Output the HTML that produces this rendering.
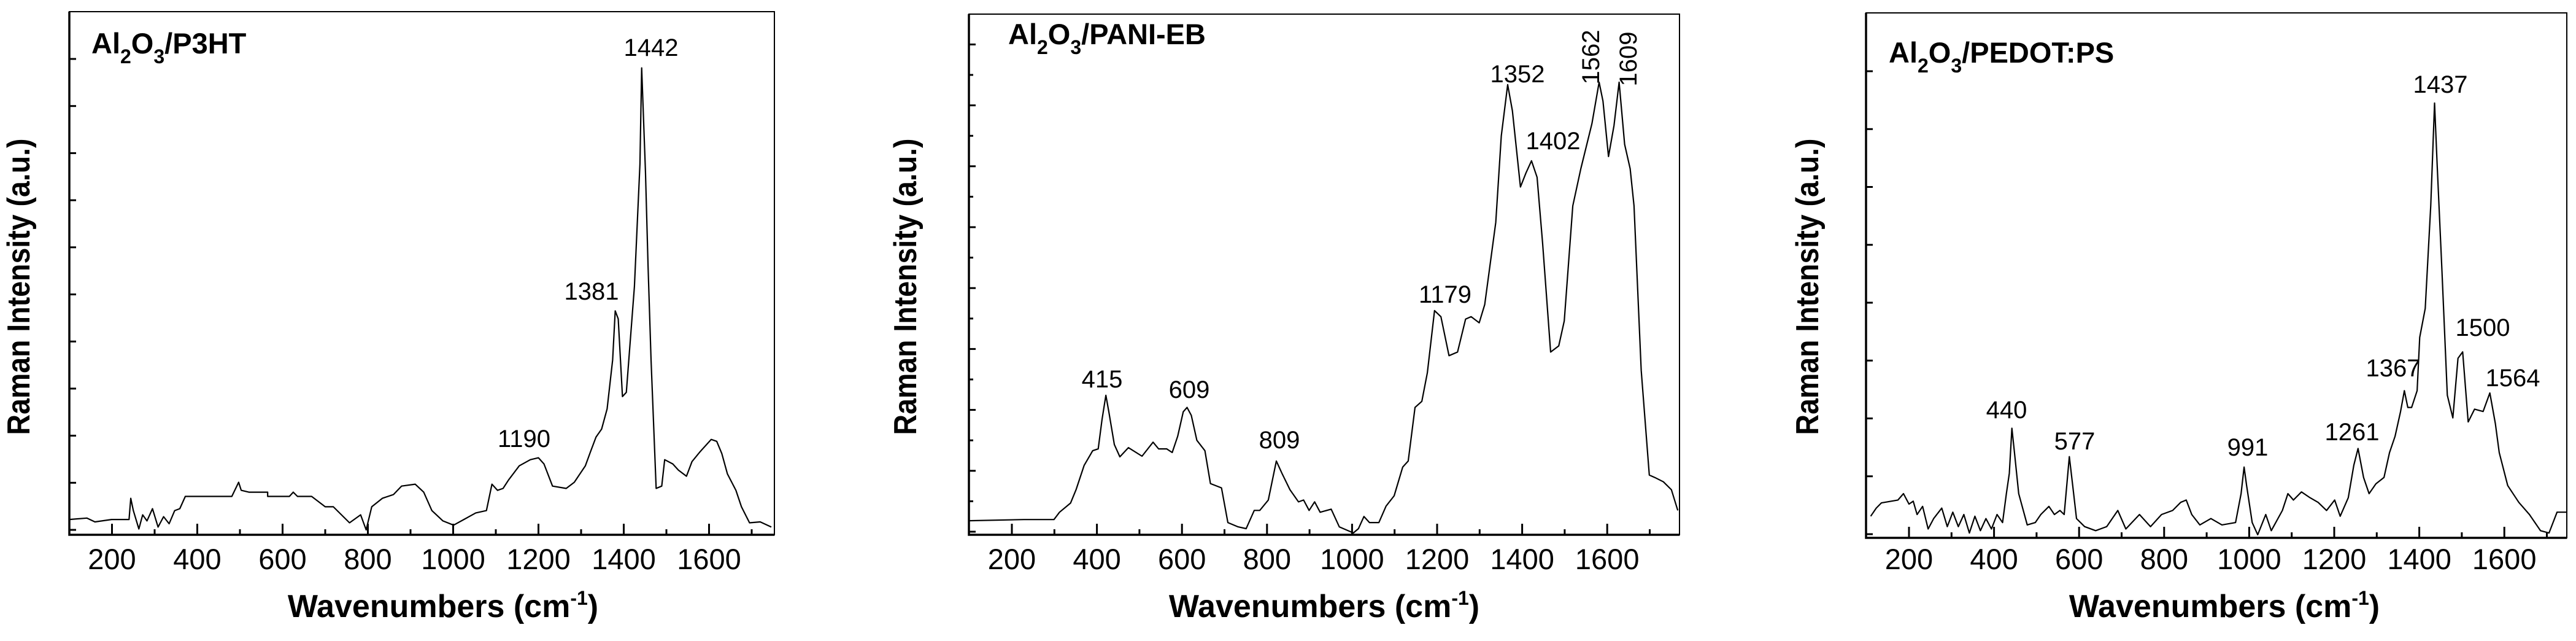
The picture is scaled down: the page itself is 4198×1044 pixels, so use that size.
<!DOCTYPE html>
<html><head><meta charset="utf-8"><style>
html,body{margin:0;padding:0;background:#fff;}
svg{display:block;}
text{font-family:"Liberation Sans",Arial,sans-serif;fill:#000;}
</style></head><body>
<svg id="fig" width="4198" height="1044" viewBox="0 0 4198 1044" xmlns="http://www.w3.org/2000/svg"></svg>
<script>
// Panel 1: Al2O3/P3HT
const p1Wn = [100,141,160,199,240,244,250,263,272,282,295,308,321,334,347,359,372,398,481,497,503,521,565,565,616,625,635,668,700,719,757,783,796,809,834,860,879,911,931,950,976,1001,1027,1053,1078,1091,1104,1117,1130,1155,1181,1200,1213,1233,1265,1284,1310,1322,1335,1348,1361,1374,1380,1387,1397,1406,1425,1438,1442,1451,1457,1464,1476,1489,1496,1515,1528,1547,1560,1579,1605,1618,1630,1643,1663,1676,1695,1720,1746];
const p1Val = [0.22,0.25,0.17,0.22,0.22,0.67,0.41,0.02,0.32,0.19,0.45,0.06,0.28,0.13,0.41,0.45,0.71,0.71,0.71,1.01,0.84,0.80,0.80,0.71,0.71,0.80,0.71,0.71,0.49,0.49,0.15,0.32,0,0.49,0.67,0.75,0.93,0.97,0.80,0.41,0.19,0.10,0.23,0.36,0.41,0.97,0.84,0.88,1.06,1.36,1.49,1.53,1.40,0.93,0.88,1.01,1.36,1.66,1.97,2.14,2.57,3.61,4.65,4.48,2.83,2.92,5.17,7.77,9.81,7.60,5.61,3.61,0.88,0.93,1.49,1.40,1.27,1.14,1.45,1.66,1.92,1.88,1.62,1.19,0.84,0.49,0.15,0.17,0.06];
const p1Peaks = ["1442","1381","1190"];
// Panel 2: Al2O3/PANI-EB
const p2Wn = [99,228,299,312,338,351,370,390,403,412,421,428,441,454,474,506,532,545,564,577,590,603,612,622,635,654,667,693,708,732,751,770,783,803,822,835,854,874,886,899,912,925,951,970,1003,1015,1028,1041,1063,1080,1099,1119,1132,1148,1164,1177,1194,1209,1228,1248,1267,1280,1299,1312,1338,1351,1366,1377,1396,1409,1422,1435,1448,1467,1486,1499,1519,1538,1564,1581,1590,1603,1616,1628,1641,1654,1663,1680,1699,1712,1732,1751,1766];
const p2Val = [0.18,0.20,0.20,0.32,0.47,0.69,1.09,1.33,1.36,1.84,2.24,1.97,1.43,1.23,1.38,1.24,1.47,1.36,1.36,1.30,1.57,1.97,2.04,1.91,1.50,1.33,0.79,0.72,0.15,0.08,0.05,0.35,0.35,0.52,1.16,0.96,0.69,0.49,0.52,0.35,0.49,0.32,0.37,0.08,-0.02,0.05,0.25,0.15,0.15,0.42,0.59,1.06,1.16,2.04,2.14,2.61,3.63,3.53,2.89,2.95,3.49,3.53,3.43,3.73,5.08,6.50,7.34,6.91,5.66,5.89,6.09,5.82,4.74,2.95,3.05,3.46,5.35,5.96,6.70,7.38,7.07,6.16,6.67,7.38,6.36,5.96,5.35,2.65,0.93,0.89,0.82,0.69,0.35];
const p2Peaks = ["415","609","809","1179","1352","1402","1562","1609"];
// Panel 3: Al2O3/PEDOT:PS
const p3Wn = [110,123,135,174,187,200,210,219,232,245,258,277,290,303,316,329,342,355,368,381,394,407,420,429,436,442,448,458,478,497,510,529,542,555,565,577,585,594,613,639,665,691,710,742,768,794,820,839,852,865,884,910,936,968,981,988,994,1007,1020,1039,1052,1078,1091,1104,1123,1143,1162,1182,1201,1214,1233,1246,1256,1269,1282,1298,1317,1330,1343,1356,1365,1373,1382,1395,1401,1414,1427,1436,1442,1453,1466,1479,1491,1502,1515,1530,1550,1566,1579,1588,1608,1634,1659,1685,1705,1724,1747];
const p3Val = [0.31,0.45,0.54,0.59,0.70,0.52,0.57,0.34,0.48,0.09,0.27,0.45,0.13,0.38,0.13,0.34,0.02,0.31,0.06,0.27,0.09,0.34,0.20,0.70,1.05,1.83,1.41,0.70,0.16,0.20,0.34,0.48,0.34,0.41,0.34,1.34,0.84,0.27,0.13,0.06,0.13,0.41,0.09,0.34,0.13,0.34,0.41,0.55,0.59,0.34,0.16,0.27,0.16,0.20,0.70,1.16,0.84,0.20,-0.01,0.34,0.06,0.41,0.70,0.59,0.73,0.63,0.55,0.41,0.59,0.31,0.63,1.19,1.48,0.98,0.70,0.87,0.98,1.41,1.69,2.12,2.48,2.19,2.19,2.48,3.40,3.90,5.68,7.45,6.39,4.61,2.40,2.01,3.04,3.15,1.94,2.16,2.12,2.44,1.91,1.41,0.84,0.55,0.34,0.06,0.02,0.38,0.38];
const p3Peaks = ["440","577","991","1261","1367","1437","1500","1564"];
const xTicks = [200,400,600,800,1000,1200,1400,1600];

const NS = "http://www.w3.org/2000/svg";
const svg = document.getElementById('fig');
function mk(tag, attrs, parent){
  const e = document.createElementNS(NS, tag);
  for (const k in attrs) e.setAttribute(k, attrs[k]);
  (parent||svg).appendChild(e);
  return e;
}
function panel(cfg){
  const g = mk('g', {});
  
  
  const X = w => cfg.x0 + (w - cfg.w0) * cfg.sx;
  const Y = v => cfg.y0 - v * cfg.dy;
  const fr = mk('rect', {x:cfg.L, y:cfg.T, width:cfg.R-cfg.L, height:cfg.B-cfg.T, fill:'none', stroke:'#000', 'stroke-width':2}, g);
  
  
  const ax = mk('path', {d:`M${cfg.L} ${cfg.T} V${cfg.B} H${cfg.R}`, fill:'none', stroke:'#000', 'stroke-width':3.5}, g);
  
  
  for (let w = 200; w <= 1700; w += 100) {
    const major = w % 200 === 0;
    const t = mk('line', {x1:X(w), x2:X(w), y1:cfg.B, y2:cfg.B-(major?18:9), stroke:'#000', 'stroke-width':3}, g);
    
    
  }
  for (const w of xTicks) {
    const t = mk('text', {x:X(w), y:927, 'font-size':47, 'text-anchor':'middle'}, g);
    t.textContent = w;
    
    
  }
  for (let k = 0; k <= cfg.nT; k++) {
    const yy = cfg.y0 - k * cfg.tStep;
    const len = cfg.alt ? (k % 2 === 0 ? 11 : 7) : 11;
    const t = mk('line', {x1:cfg.L, x2:cfg.L+len, y1:yy, y2:yy, stroke:'#000', 'stroke-width':3}, g);
    
    
  }
  let d = '';
  cfg.wn.forEach((w, i) => { d += (i ? 'L' : 'M') + X(w).toFixed(1) + ' ' + Y(cfg.val[i]).toFixed(1); });
  const ln = mk('path', {d:d, fill:'none', stroke:'#000', 'stroke-width':2.2, 'stroke-linejoin':'round'}, g);
  
  
  const tt = mk('text', {x:cfg.tx, y:cfg.ty, 'font-size':47, 'font-weight':'bold'}, g);
  tt.innerHTML = 'Al<tspan dy="16" font-size="32">2</tspan><tspan dy="-16">O</tspan><tspan dy="16" font-size="32">3</tspan><tspan dy="-16">' + cfg.title + '</tspan>';
  
  
  const yt = mk('text', {x:0, y:0, 'font-size':52, 'font-weight':'bold', 'text-anchor':'middle', textLength:483, lengthAdjust:'spacingAndGlyphs', transform:`translate(${cfg.ytx},467) rotate(-90)`}, g);
  yt.textContent = 'Raman Intensity (a.u.)';
  
  
  const xt = mk('text', {x:cfg.xtx, y:1005, 'font-size':52, 'font-weight':'bold', 'text-anchor':'middle'}, g);
  xt.innerHTML = 'Wavenumbers (cm<tspan dy="-20" font-size="32">-1</tspan><tspan dy="20">)</tspan>';
  
  
  cfg.peaks.forEach((p, i) => {
    const pos = cfg.pPos[i];
    const attrs = {x:pos[0], y:pos[1], 'font-size':40, 'text-anchor':'middle'};
    if (pos[2]) { attrs.x = 0; attrs.y = 0; attrs.transform = `translate(${pos[0]},${pos[1]}) rotate(-90)`; }
    const t = mk('text', attrs, g);
    t.textContent = p;
    
    
  });
}
panel({name:'panel-p3ht', L:113, R:1262, T:19, B:871, x0:113, w0:100, sx:0.695, y0:863, dy:76.7, tStep:76.7, nT:10, alt:false,
  wn:p1Wn, val:p1Val, title:'/P3HT', tx:149, ty:87, ytx:48, xtx:722, peaks:p1Peaks,
  pPos:[[1061,91],[964,488],[854,728]]});
panel({name:'panel-pani-eb', L:1579, R:2737, T:23, B:871, x0:1649, w0:200, sx:0.693, y0:866, dy:99.2, tStep:49.6, nT:16, alt:true,
  wn:p2Wn, val:p2Val, title:'/PANI-EB', tx:1643, ty:72, ytx:1493, xtx:2158, peaks:p2Peaks,
  pPos:[[1796,631],[1938,648],[2085,730],[2355,493],[2473,134],[2531,243],[2606,93,1],[2667,96,1]]});
panel({name:'panel-pedot-ps', L:3041, R:4183, T:21, B:876, x0:3111, w0:200, sx:0.693, y0:870, dy:94.25, tStep:94.25, nT:8, alt:false,
  wn:p3Wn, val:p3Val, title:'/PEDOT:PS', tx:3078, ty:102, ytx:2963, xtx:3625, peaks:p3Peaks,
  pPos:[[3270,681],[3381,732],[3663,742],[3833,717],[3900,613],[3977,151],[4046,547],[4095,629]]});
</script>
</body></html>
